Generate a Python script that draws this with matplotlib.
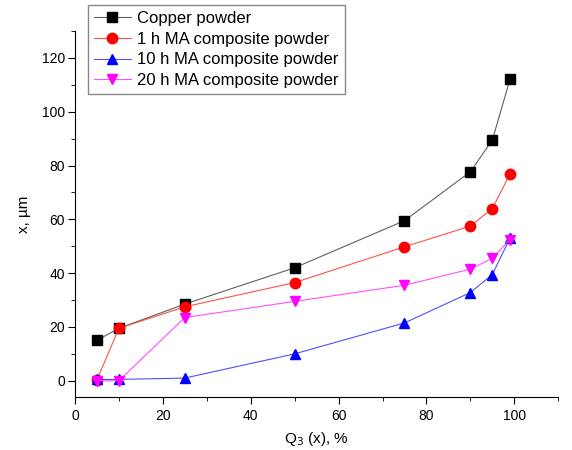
import matplotlib
matplotlib.use('Agg')
import matplotlib.pyplot as plt
from matplotlib.ticker import MultipleLocator

plt.rcParams['font.family'] = ['Liberation Sans', 'DejaVu Sans']

q3 = [5, 10, 25, 50, 75, 90, 95, 99]
copper = [15, 19.5, 28.5, 42, 59.5, 77.7, 89.5, 112]
ma_1h = [0.3, 19.5, 27.5, 36.5, 49.8, 57.5, 64, 76.8]
ma_10h = [0.5, 0.5, 1, 10, 21.5, 32.8, 39.5, 53]
ma_20h = [0, 0, 23.5, 29.5, 35.5, 41.5, 45.5, 52.5]

labels = ['Copper powder', '1 h MA composite powder',
          '10 h MA composite powder', '20 h MA composite powder']

fig = plt.figure(figsize=(5.72, 4.5), dpi=100)
ax = fig.add_axes([0.131, 0.118, 0.845, 0.813])

ax.plot(q3, copper, color='#606060', lw=0.8, marker='s', ms=6.5,
        mfc='black', mec='black', label=labels[0])
ax.plot(q3, ma_1h, color='#ff5050', lw=0.8, marker='o', ms=7.5,
        mfc='red', mec='red', label=labels[1])
ax.plot(q3, ma_10h, color='#5050ff', lw=0.8, marker='^', ms=7.5,
        mfc='blue', mec='blue', label=labels[2])
ax.plot(q3, ma_20h, color='#ff50ff', lw=0.8, marker='v', ms=7.5,
        mfc='magenta', mec='magenta', label=labels[3])

ax.set_xlim(0, 110)
ax.set_ylim(-6, 130)
ax.xaxis.set_major_locator(MultipleLocator(20))
ax.xaxis.set_minor_locator(MultipleLocator(10))
ax.yaxis.set_major_locator(MultipleLocator(20))
ax.yaxis.set_minor_locator(MultipleLocator(10))
ax.spines['top'].set_visible(False)
ax.spines['right'].set_visible(False)
ax.tick_params(which='major', length=5, labelsize=10)
ax.tick_params(which='minor', length=3)
ax.tick_params(axis='y', pad=2)

ax.set_xlabel('Q$_3$ (x), %', fontsize=11, labelpad=5)
ax.set_ylabel('x, µm', fontsize=11, labelpad=8)

leg = ax.legend(loc='upper left', bbox_to_anchor=(0.154, 0.989),
                bbox_transform=fig.transFigure, fontsize=12, fancybox=False,
                edgecolor='#888888', framealpha=1, labelspacing=0.35,
                handlelength=2.2, handletextpad=0.4, borderpad=0.35,
                borderaxespad=0)
leg.get_frame().set_linewidth(1.0)

plt.savefig('out.png', dpi=100)
plt.close()
